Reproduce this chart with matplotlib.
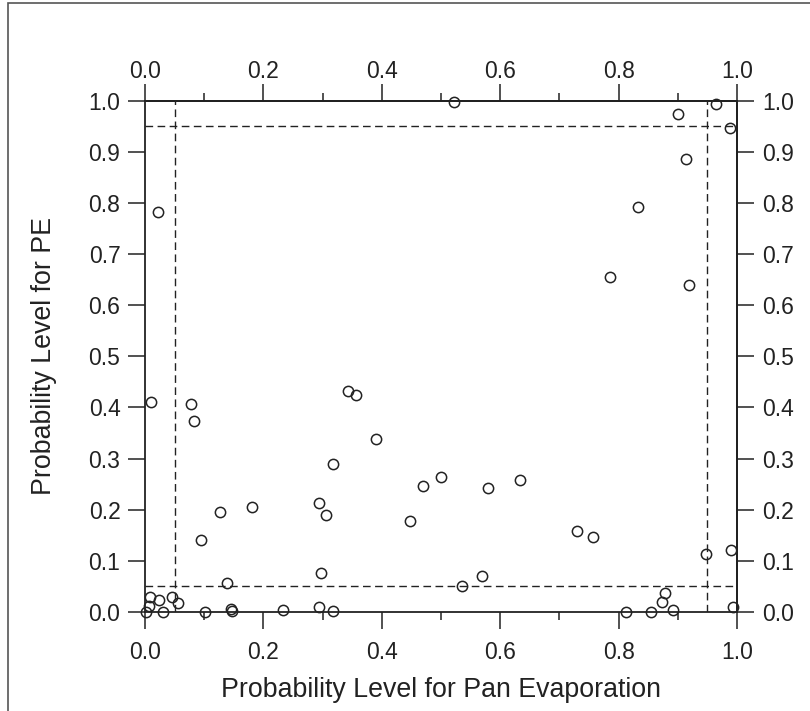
import matplotlib
matplotlib.use("Agg")
import matplotlib.pyplot as plt
from matplotlib.patches import Rectangle
from matplotlib.ticker import MultipleLocator

plt.rcParams["font.family"] = ["Liberation Sans", "DejaVu Sans"]

# probability levels (x = pan evaporation, y = PE)
pan_prob = [0.022, 0.522, 0.964, 0.901, 0.988, 0.914, 0.832, 0.785, 0.919,
            0.010, 0.077, 0.083, 0.343, 0.356, 0.391, 0.318, 0.500, 0.469, 0.294, 0.305,
            0.181, 0.126, 0.448, 0.094, 0.298, 0.139,
            0.009, 0.024, 0.046, 0.056, 0.007, 0.001, 0.031, 0.101, 0.145, 0.147, 0.233, 0.294, 0.318,
            0.580, 0.633, 0.730, 0.756, 0.947, 0.990, 0.535, 0.570, 0.879, 0.874, 0.812, 0.854, 0.892, 0.993]
pe_prob = [0.783, 0.998, 0.993, 0.973, 0.947, 0.886, 0.793, 0.656, 0.639,
           0.410, 0.406, 0.374, 0.432, 0.425, 0.339, 0.290, 0.265, 0.247, 0.213, 0.190,
           0.206, 0.196, 0.178, 0.140, 0.076, 0.057,
           0.030, 0.023, 0.030, 0.017, 0.012, 0.000, 0.001, 0.000, 0.005, 0.002, 0.004, 0.010, 0.002,
           0.243, 0.258, 0.159, 0.147, 0.113, 0.121, 0.050, 0.071, 0.037, 0.020, 0.001, 0.000, 0.003, 0.009]
limits = [0.05, 0.95]
x_label = "Probability Level for Pan Evaporation"
y_label = "Probability Level for PE"

ink = "#222222"
fig = plt.figure(figsize=(8.1, 7.11), dpi=100)
ax = fig.add_axes([0.179, 0.1392, 0.7309, 0.7192])

for v in limits:
    ax.axhline(v, color=ink, lw=1.0, ls=(0, (5.5, 3.2)), zorder=1)
    ax.axvline(v, color=ink, lw=1.0, ls=(0, (5.5, 3.2)), zorder=1)

ax.plot(pan_prob, pe_prob, "o", ms=7.4, mfc="none", mec=ink, mew=1.1, clip_on=False, zorder=3)

ax.set_xlim(0, 1); ax.set_ylim(0, 1)
for s in ax.spines.values():
    s.set_linewidth(1.3); s.set_color(ink)

fs = 16.5
fmt = lambda v, p: f"{v:.1f}"
ax.xaxis.set_major_locator(MultipleLocator(0.2)); ax.xaxis.set_minor_locator(MultipleLocator(0.1))
ax.yaxis.set_major_locator(MultipleLocator(0.1))
ax.tick_params(axis="both", which="major", direction="out", length=12.2, width=1.1, color=ink, labelsize=fs, labelcolor=ink)
ax.tick_params(axis="x", which="minor", direction="out", length=5.5, width=1.1, color=ink)
ax.tick_params(axis="x", pad=8.5)
ax.tick_params(axis="y", pad=5.5)
ax.xaxis.set_major_formatter(fmt)
ax.yaxis.set_major_formatter(fmt)

top = ax.secondary_xaxis("top")
top.xaxis.set_major_locator(MultipleLocator(0.2)); top.xaxis.set_minor_locator(MultipleLocator(0.1))
top.xaxis.set_major_formatter(fmt)
top.tick_params(which="major", direction="out", length=12.2, width=1.1, color=ink, labelsize=fs, labelcolor=ink, pad=0.5)
top.tick_params(which="minor", direction="out", length=5.5, width=1.1, color=ink)
top.spines["top"].set_linewidth(1.3)

right = ax.secondary_yaxis("right")
right.yaxis.set_major_locator(MultipleLocator(0.1))
right.yaxis.set_major_formatter(fmt)
right.tick_params(which="major", direction="out", length=12.2, width=1.1, color=ink, labelsize=fs, labelcolor=ink, pad=6)
right.spines["right"].set_linewidth(1.3)

ax.set_xlabel(x_label, fontsize=19.3, color=ink, labelpad=9.5)
ax.set_ylabel(y_label, fontsize=19.3, color=ink, labelpad=23)

fig.patches.append(Rectangle((0.0095, -0.02), 1.05, 1.0158, transform=fig.transFigure,
                             fill=False, lw=1.2, ec="#555555"))

fig.savefig("out.png", dpi=100)
